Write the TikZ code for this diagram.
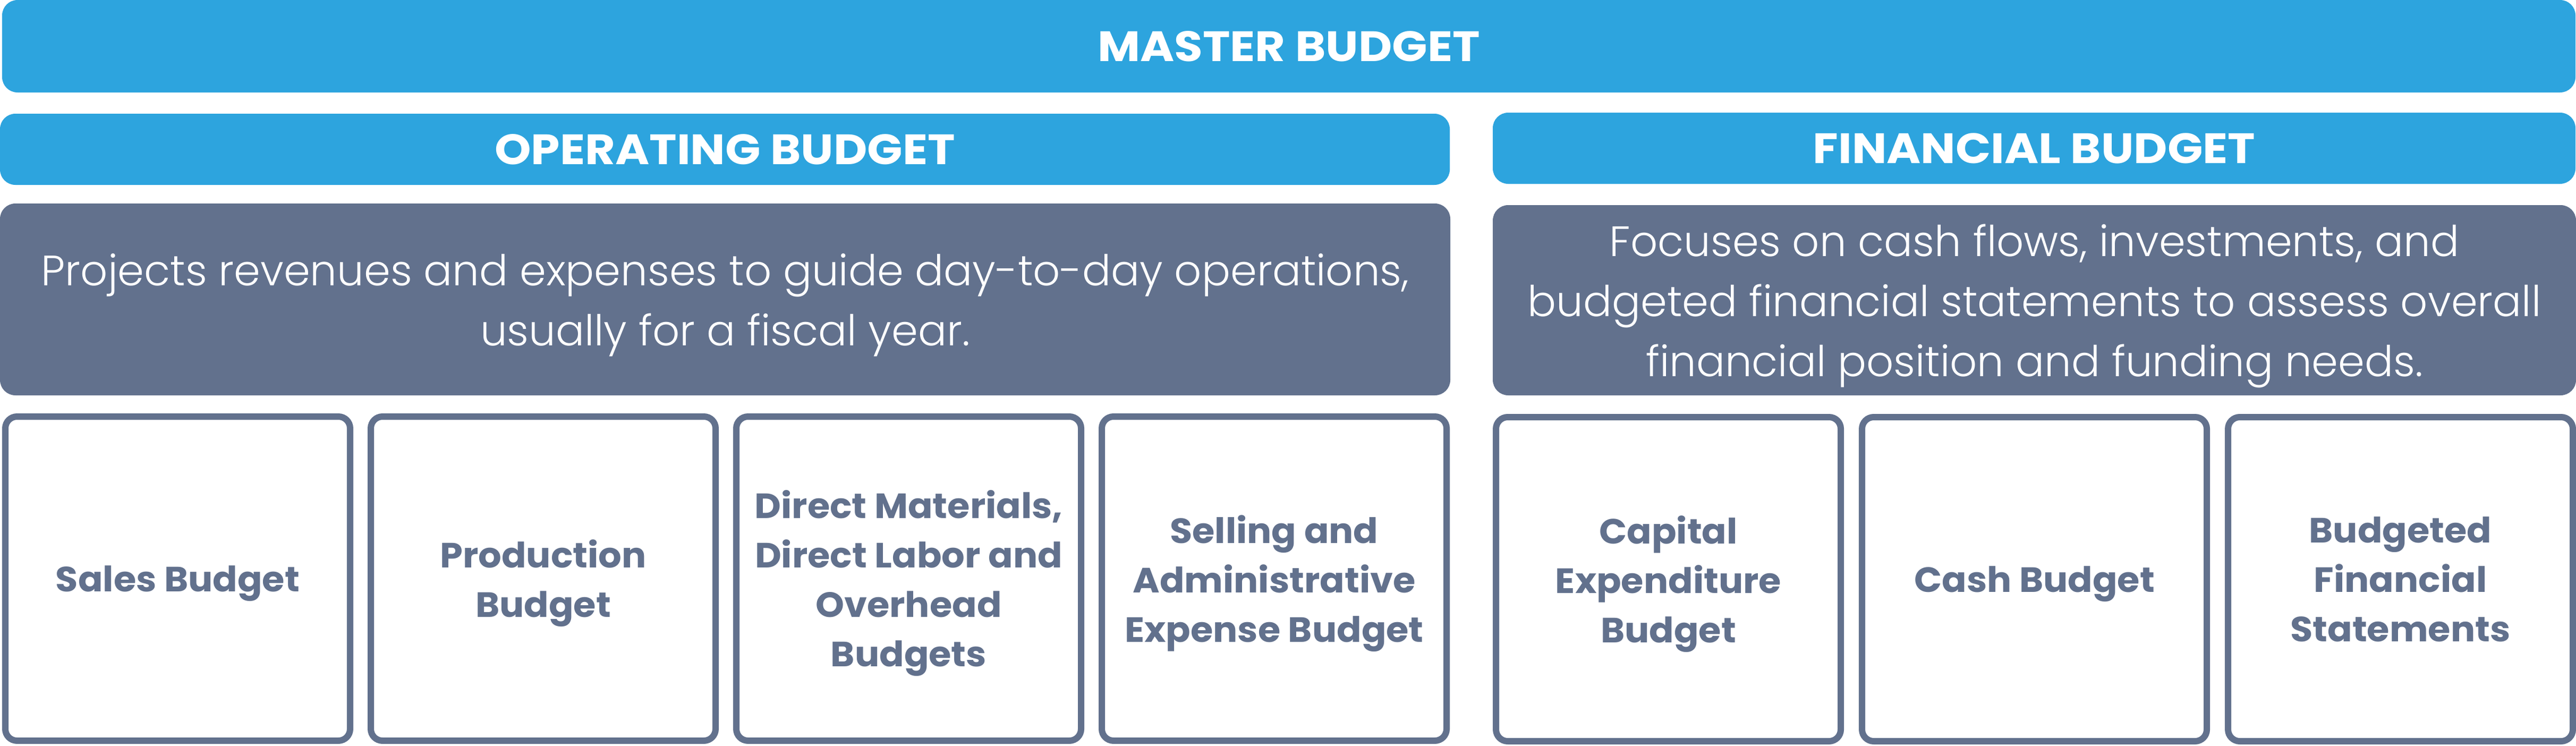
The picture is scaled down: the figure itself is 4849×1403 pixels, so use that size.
\documentclass[tikz,border=0pt]{standalone}
\usepackage{fontspec}
\setmainfont{Poppins}
\newfontfamily\lightfont{Poppins Light}
\newfontfamily\headfont{Poppins Bold}[FakeStretch=1.09]
\newfontfamily\labelfont{Poppins Bold}[FakeStretch=1.04]
\definecolor{mblue}{HTML}{2DA4DE}
\definecolor{slate}{HTML}{62718D}
\tikzset{
  bar/.style={fill=mblue, draw=none, rounded corners=29pt, inner sep=0pt, outer sep=0pt,
    text=white, font=\headfont\fontsize{80}{96}\selectfont},
  descbox/.style={fill=slate, draw=none, rounded corners=29pt, inner sep=0pt, outer sep=0pt,
    text=white, align=center, text depth=0pt, font=\lightfont\fontsize{80}{113}\selectfont},
  itembox/.style={draw=slate, line width=12pt, fill=white, rounded corners=22pt,
    minimum width=649pt, minimum height=610pt, inner sep=0pt, outer sep=0pt,
    text=slate, align=center, text depth=0pt, font=\labelfont\fontsize{66}{93}\selectfont}
}
\begin{document}
\begin{tikzpicture}[x=1pt,y=-1pt]
\useasboundingbox (0,0) rectangle (4849,1403);
% top bars
\node[bar, minimum width=4844pt, minimum height=174pt] (master) at (2426,87) {MASTER BUDGET};
\node[bar, minimum width=2729pt, minimum height=134pt] (ophead) at (1364.5,281) {OPERATING BUDGET};
\node[bar, minimum width=2038pt, minimum height=134pt] (finhead) at (3829,279) {FINANCIAL BUDGET};
% descriptions
\node[descbox, minimum width=2730pt, minimum height=361pt] (opdesc) at (1365,563.5)
  {Projects revenues and expenses to guide day-to-day operations,\\usually for a fiscal year.};
\node[descbox, minimum width=2039pt, minimum height=358pt] (findesc) at (3829.5,565)
  {Focuses on cash flows, investments, and\\budgeted financial statements to assess overall\\financial position and funding needs.};
% operating items
\node[itembox] (sales) at (334.5,1089) {Sales Budget};
\node[itembox] (prod) at (1022.5,1089) {Production\\Budget};
\node[itembox] (direct) at (1710.5,1089) {Direct Materials,\\Direct Labor and\\Overhead\\Budgets};
\node[itembox] (selling) at (2398.5,1089) {Selling and\\Administrative\\Expense Budget};
% financial items
\node[itembox] (capex) at (3140.5,1090) {Capital\\Expenditure\\Budget};
\node[itembox] (cash) at (3829.5,1090) {Cash Budget};
\node[itembox] (bfs) at (4518.5,1090) {Budgeted\\Financial\\Statements};
\end{tikzpicture}
\end{document}
